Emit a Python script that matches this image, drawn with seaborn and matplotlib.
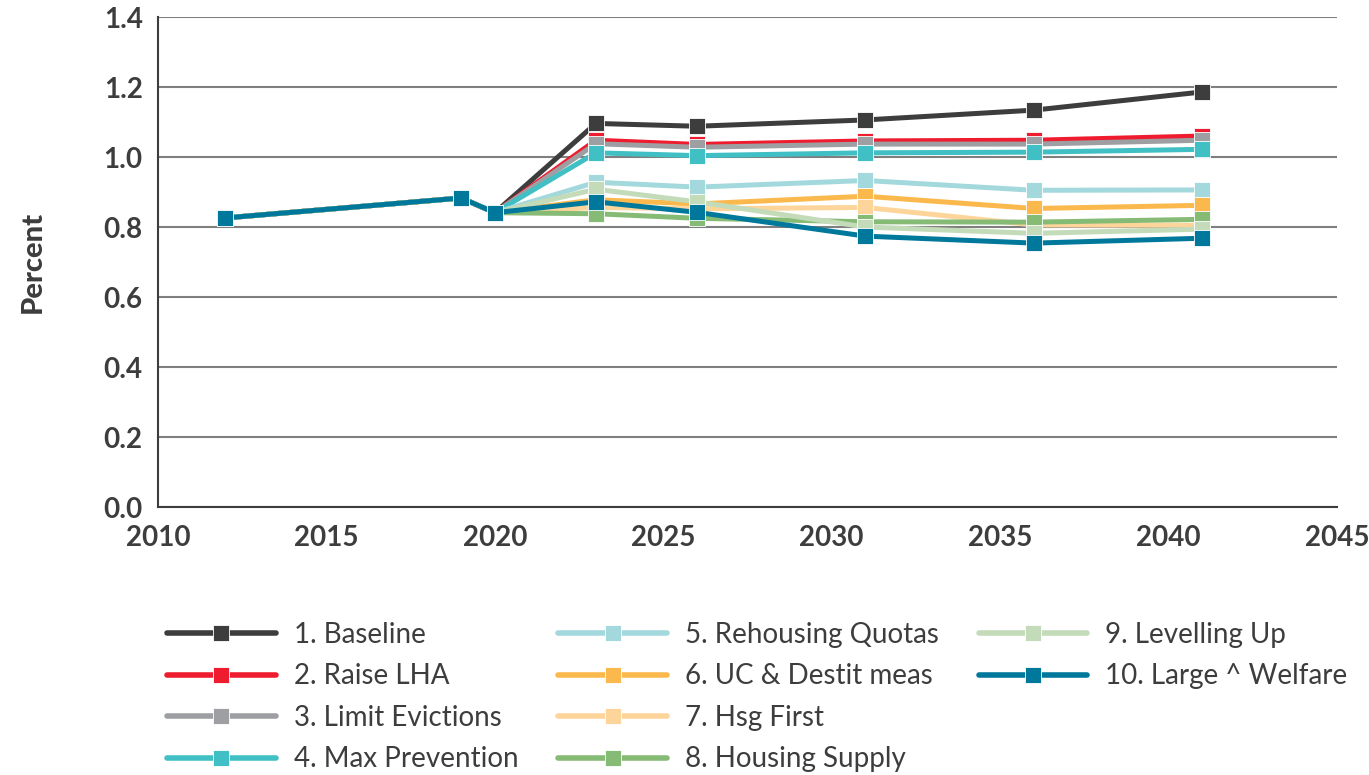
import matplotlib
matplotlib.use("Agg")
import matplotlib.pyplot as plt
import seaborn as sns
import pandas as pd
from matplotlib.lines import Line2D

years = [2012, 2019, 2020, 2023, 2026, 2031, 2036, 2041]
scenarios = ["1. Baseline", "2. Raise LHA", "3. Limit Evictions", "4. Max Prevention",
             "5. Rehousing Quotas", "6. UC & Destit meas", "7. Hsg First",
             "8. Housing Supply", "9. Levelling Up", "10. Large ^ Welfare"]
baseline = [0.826, 0.883, 0.841, 1.096, 1.088, 1.106, 1.134, 1.186]
raise_lha = [0.826, 0.883, 0.841, 1.048, 1.036, 1.046, 1.048, 1.060]
limit_evictions = [0.826, 0.883, 0.841, 1.038, 1.028, 1.037, 1.037, 1.048]
max_prevention = [0.826, 0.883, 0.841, 1.012, 1.004, 1.012, 1.014, 1.022]
rehousing_quotas = [0.826, 0.883, 0.841, 0.928, 0.914, 0.933, 0.905, 0.906]
uc_destit = [0.826, 0.883, 0.841, 0.878, 0.866, 0.888, 0.853, 0.862]
hsg_first = [0.826, 0.883, 0.841, 0.856, 0.852, 0.856, 0.806, 0.805]
housing_supply = [0.826, 0.883, 0.841, 0.838, 0.825, 0.815, 0.814, 0.822]
levelling_up = [0.826, 0.883, 0.841, 0.908, 0.872, 0.800, 0.782, 0.794]
large_welfare = [0.826, 0.883, 0.841, 0.872, 0.842, 0.774, 0.754, 0.768]
series = [baseline, raise_lha, limit_evictions, max_prevention, rehousing_quotas,
          uc_destit, hsg_first, housing_supply, levelling_up, large_welfare]
colors = ["#3d3d3d", "#ee1c2e", "#9d9fa2", "#40bfc5", "#a3d9dc",
          "#fbb84c", "#fdd59a", "#86bb76", "#c3dbb9", "#00789c"]
x_ticks = [2010, 2015, 2020, 2025, 2030, 2035, 2040, 2045]
y_ticks = [0.0, 0.2, 0.4, 0.6, 0.8, 1.0, 1.2, 1.4]

rows = []
for name, vals in zip(scenarios, series):
    for yr, v in zip(years, vals):
        rows.append({"Year": yr, "Value": v, "Scenario": name})
df = pd.DataFrame(rows)

sns.set_theme(style="white")
plt.rcParams["font.family"] = ["Lato", "DejaVu Sans"]
text_color = "#3d3d3d"

fig = plt.figure(figsize=(13.69, 7.75), dpi=100)
ax = fig.add_axes([0.1154, 0.3458, 0.8612, 0.6322])

sns.lineplot(data=df, x="Year", y="Value", hue="Scenario", hue_order=scenarios,
             palette=colors, marker="s", markersize=12, linewidth=3.6,
             markeredgecolor="white", markeredgewidth=0.6, dashes=False,
             legend=False, ax=ax, sort=False)

ax.set_xlim(2010, 2045)
ax.set_ylim(0, 1.4)
ax.set_xticks(x_ticks)
ax.set_yticks(y_ticks)
ax.set_yticklabels([f"{v:.1f}" for v in y_ticks])
ax.tick_params(axis="x", labelsize=20, labelcolor=text_color, color="#3d3d3d",
               direction="in", length=9, width=1.5, pad=13)
ax.tick_params(axis="y", labelsize=20, labelcolor=text_color, length=0, pad=11)
for lbl in ax.get_xticklabels() + ax.get_yticklabels():
    lbl.set_fontweight("bold")
ax.set_xlabel("")
ax.set_ylabel("Percent", fontsize=21, fontweight="black", color=text_color)
ax.yaxis.set_label_coords(-0.095, 0.5)

ax.yaxis.grid(True, color="#7f7f7f", linewidth=1.5)
ax.set_axisbelow(True)
for side in ["top", "right"]:
    ax.spines[side].set_visible(False)
ax.spines["left"].set_color("#3d3d3d")
ax.spines["left"].set_linewidth(1.5)
ax.spines["bottom"].set_color("#3d3d3d")
ax.spines["bottom"].set_linewidth(1.5)

handles = [Line2D([], [], color=c, linewidth=4, marker="s", markersize=12,
                  markeredgecolor="white", markeredgewidth=0.6) for c in colors]
labels = list(scenarios)
handles += [Line2D([], [], alpha=0), Line2D([], [], alpha=0)]
labels += ["", ""]
leg = fig.legend(handles, labels, ncol=3, loc="upper left",
                 bbox_to_anchor=(0.114, 0.212), frameon=False, fontsize=20,
                 handlelength=3.9, handletextpad=0.65, columnspacing=1.45,
                 labelspacing=0.56, borderaxespad=0)
for t in leg.get_texts():
    t.set_color(text_color)

fig.savefig("out.png", dpi=100)
